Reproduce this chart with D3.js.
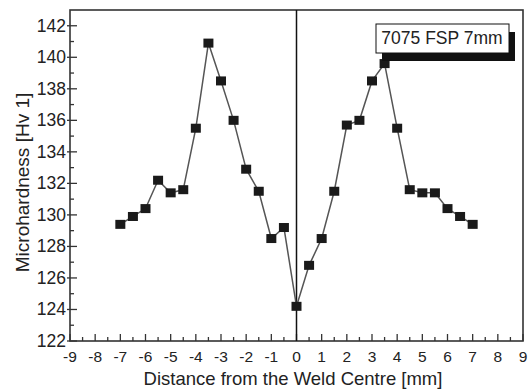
<!DOCTYPE html>
<html>
<head>
<meta charset="utf-8">
<script src="https://cdn.jsdelivr.net/npm/d3@7"></script>
<style>
  html, body { margin: 0; padding: 0; background: #fff; }
  svg { display: block; }
  text { font-family: "Liberation Sans", Arial, sans-serif; fill: #222; }
</style>
</head>
<body>
<svg id="chart" width="528" height="390"></svg>
<script>
// ---- data ----
const distances = [-7, -6.5, -6, -5.5, -5, -4.5, -4, -3.5, -3, -2.5, -2, -1.5, -1, -0.5, 0,
                   0.5, 1, 1.5, 2, 2.5, 3, 3.5, 4, 4.5, 5, 5.5, 6, 6.5, 7];
const hardness = [129.4, 129.9, 130.4, 132.2, 131.4, 131.6, 135.5, 140.9, 138.5, 136.0, 132.9, 131.5, 128.5, 129.2, 124.2,
                  126.8, 128.5, 131.5, 135.7, 136.0, 138.5, 139.6, 135.5, 131.6, 131.4, 131.4, 130.4, 129.9, 129.4];
const xTicks = [-9, -8, -7, -6, -5, -4, -3, -2, -1, 0, 1, 2, 3, 4, 5, 6, 7, 8, 9];
const yTicks = [122, 124, 126, 128, 130, 132, 134, 136, 138, 140, 142];
const legendLabel = "7075 FSP 7mm";
const xTitle = "Distance from the Weld Centre [mm]";
const yTitle = "Microhardness [Hv 1]";

// ---- layout ----
const svg = d3.select("#chart");
const L = 70, R = 523, T = 10, B = 341;
const x = d3.scaleLinear().domain([-9, 9]).range([L, R]);
const y = d3.scaleLinear().domain([122, 143]).range([B, T]);

// minor ticks
const xMinor = d3.range(-9, 9.01, 0.5).filter(v => !xTicks.includes(v));
const yMinor = d3.range(123, 143, 2);

// x axis ticks (inward)
const gx = svg.append("g");
gx.selectAll("line.maj").data(xTicks).join("line")
  .attr("x1", d => x(d)).attr("x2", d => x(d))
  .attr("y1", B).attr("y2", B - 7)
  .attr("stroke", "#333").attr("stroke-width", 1.3);
gx.selectAll("line.min").data(xMinor).join("line")
  .attr("x1", d => x(d)).attr("x2", d => x(d))
  .attr("y1", B).attr("y2", B - 4)
  .attr("stroke", "#333").attr("stroke-width", 1.3);
gx.selectAll("text").data(xTicks).join("text")
  .attr("x", d => x(d)).attr("y", 362)
  .attr("text-anchor", "middle")
  .style("font-size", "15.5px")
  .text(d => d);

// y axis ticks
const gy = svg.append("g");
gy.selectAll("line.maj").data(yTicks).join("line")
  .attr("x1", L - 3).attr("x2", L + 7)
  .attr("y1", d => y(d)).attr("y2", d => y(d))
  .attr("stroke", "#333").attr("stroke-width", 1.3);
gy.selectAll("line.min").data(yMinor).join("line")
  .attr("x1", L).attr("x2", L + 4)
  .attr("y1", d => y(d)).attr("y2", d => y(d))
  .attr("stroke", "#333").attr("stroke-width", 1.3);
gy.selectAll("text").data(yTicks).join("text")
  .attr("x", 66).attr("y", d => y(d) + 6)
  .attr("text-anchor", "end")
  .style("font-size", "17.5px")
  .text(d => d);

// frame
svg.append("rect")
  .attr("x", L).attr("y", T).attr("width", R - L).attr("height", B - T)
  .attr("fill", "none").attr("stroke", "#333").attr("stroke-width", 1.6);

// vertical line at weld centre
svg.append("line")
  .attr("x1", x(0)).attr("x2", x(0)).attr("y1", T).attr("y2", B)
  .attr("stroke", "#111").attr("stroke-width", 1.5);

// data line
const pts = distances.map((d, i) => [d, hardness[i]]);
svg.append("path")
  .datum(pts)
  .attr("d", d3.line().x(d => x(d[0])).y(d => y(d[1])))
  .attr("fill", "none").attr("stroke", "#555").attr("stroke-width", 1.5);

// markers
svg.selectAll("rect.pt").data(pts).join("rect")
  .attr("class", "pt")
  .attr("x", d => x(d[0]) - 5).attr("y", d => y(d[1]) - 4.5)
  .attr("width", 10).attr("height", 9)
  .attr("fill", "#1a1a1a");

// legend box with shadow
svg.append("rect")
  .attr("x", 382).attr("y", 32).attr("width", 133).attr("height", 29)
  .attr("fill", "#111");
svg.append("rect")
  .attr("x", 376).attr("y", 24).attr("width", 133).attr("height", 29)
  .attr("fill", "#fff").attr("stroke", "#111").attr("stroke-width", 1);
svg.append("text")
  .attr("x", 442).attr("y", 44)
  .attr("text-anchor", "middle")
  .style("font-size", "17.5px")
  .text(legendLabel);

// axis titles
svg.append("text")
  .attr("x", 293).attr("y", 385)
  .attr("text-anchor", "middle")
  .style("font-size", "18.5px")
  .text(xTitle);
svg.append("text")
  .attr("transform", "translate(28.5,182.5) rotate(-90)")
  .attr("text-anchor", "middle")
  .style("font-size", "19px")
  .text(yTitle);
</script>
</body>
</html>
